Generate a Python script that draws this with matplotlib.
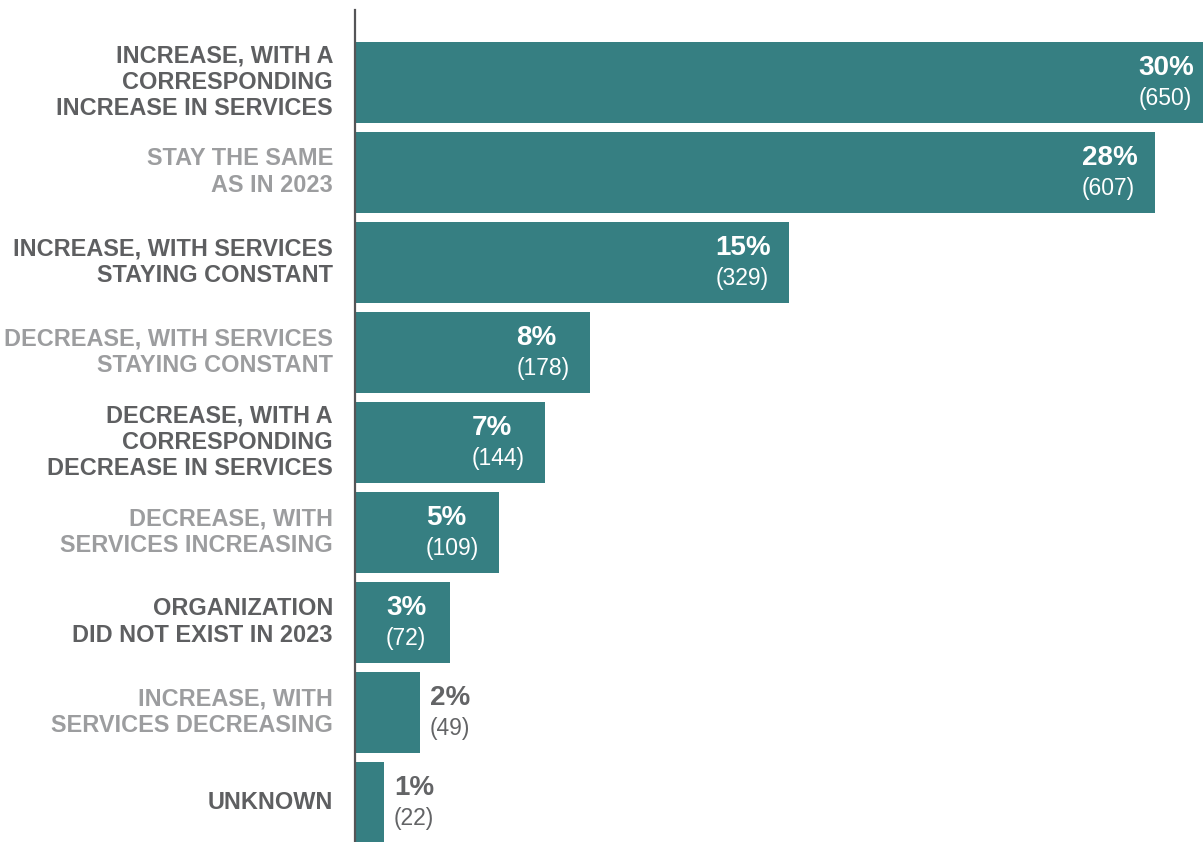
import matplotlib
matplotlib.use("Agg")
import matplotlib.pyplot as plt

categories = [
    "INCREASE, WITH A\nCORRESPONDING\nINCREASE IN SERVICES",
    "STAY THE SAME\nAS IN 2023",
    "INCREASE, WITH SERVICES\nSTAYING CONSTANT",
    "DECREASE, WITH SERVICES\nSTAYING CONSTANT",
    "DECREASE, WITH A\nCORRESPONDING\nDECREASE IN SERVICES",
    "DECREASE, WITH\nSERVICES INCREASING",
    "ORGANIZATION\nDID NOT EXIST IN 2023",
    "INCREASE, WITH\nSERVICES DECREASING",
    "UNKNOWN",
]
counts = [650, 607, 329, 178, 144, 109, 72, 49, 22]
total = sum(counts)
percents = [round(100 * c / total) for c in counts]

TEAL = "#367f82"
DARK = "#5e5f61"
LIGHT = "#9c9d9f"
OUT_LABEL = "#636466"

plt.rcParams["font.family"] = ["Liberation Sans", "DejaVu Sans"]

W, H = 1203, 842
fig = plt.figure(figsize=(W / 100, H / 100), dpi=100)
ax_left = 355 / W
ax = fig.add_axes([ax_left, 0, 1 - ax_left, (842 - 10) / H])

px_per_count = 800 / 607
xmax = (W - 355) / px_per_count
ax.set_xlim(0, xmax)
ax.set_ylim(8.444, -0.8)

ypos = list(range(len(categories)))
ax.barh(ypos, counts, height=0.9, color=TEAL, clip_on=True)

for spine in ["top", "right", "bottom"]:
    ax.spines[spine].set_visible(False)
ax.spines["left"].set_color("#555557")
ax.spines["left"].set_linewidth(1.6)
ax.set_xticks([])
ax.set_yticks([])

px_to_data = 1 / px_per_count
for i, (cat, c, p) in enumerate(zip(categories, counts, percents)):
    color = DARK if i % 2 == 0 else LIGHT
    ax.text(-22 * px_to_data, i, cat, ha="right", va="center",
            fontsize=16.9, fontweight="bold", color=color,
            linespacing=1.18, clip_on=False)

    bar_px = c * px_per_count
    if bar_px > 80:
        x_lab = max(c - 73 * px_to_data, 31 * px_to_data)
        tcolor = "white"
    else:
        x_lab = c + 10 * px_to_data
        tcolor = OUT_LABEL
    ax.text(x_lab, i - 0.155, f"{p}%", ha="left", va="center",
            fontsize=20, fontweight="bold", color=tcolor)
    ax.text(x_lab, i + 0.18, f"({c})", ha="left", va="center",
            fontsize=16.5, color=tcolor)

fig.savefig("out.png", dpi=100)
